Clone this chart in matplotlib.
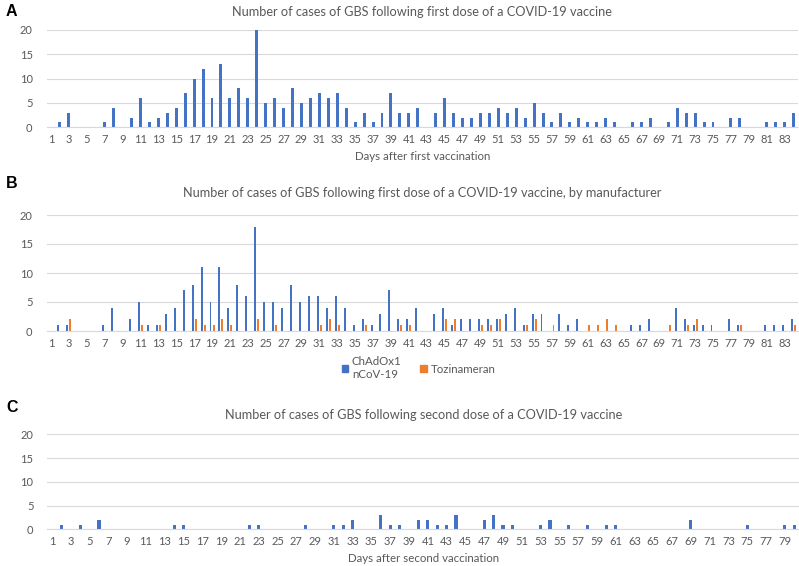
import matplotlib
matplotlib.use("Agg")
import matplotlib.pyplot as plt
import numpy as np
from matplotlib.patches import Patch

plt.rcParams['font.family'] = ['Lato', 'DejaVu Sans']

# Panel A: first dose, all
days_a = list(range(1, 85))
cases_a = [0, 1, 3, 0, 0, 0, 1, 4, 0, 2,
           6, 1, 2, 3, 4, 7, 10, 12, 6, 13,
           6, 8, 6, 20, 5, 6, 4, 8, 5, 6,
           7, 6, 7, 4, 1, 3, 1, 3, 7, 3,
           3, 4, 0, 3, 6, 3, 2, 2, 3, 3,
           4, 3, 4, 2, 5, 3, 1, 3, 1, 2,
           1, 1, 2, 1, 0, 1, 1, 2, 0, 1,
           4, 3, 3, 1, 1, 0, 2, 2, 0, 0,
           1, 1, 1, 3]

# Panel B: first dose by manufacturer
days_b = list(range(1, 85))
chadox = [0, 1, 1, 0, 0, 0, 1, 4, 0, 2,
          5, 1, 1, 3, 4, 7, 8, 11, 5, 11,
          4, 8, 6, 18, 5, 5, 4, 8, 5, 6,
          6, 4, 6, 4, 1, 2, 1, 3, 7, 2,
          2, 4, 0, 3, 4, 1, 2, 2, 2, 2,
          2, 3, 4, 1, 3, 3, 0, 3, 1, 2,
          0, 0, 0, 0, 0, 1, 1, 2, 0, 0,
          4, 2, 1, 1, 1, 0, 2, 1, 0, 0,
          1, 1, 1, 2]
tozinameran = [0, 0, 2, 0, 0, 0, 0, 0, 0, 0,
               1, 0, 1, 0, 0, 0, 2, 1, 1, 2,
               1, 0, 0, 2, 0, 1, 0, 0, 0, 0,
               1, 2, 1, 0, 0, 1, 0, 0, 0, 1,
               1, 0, 0, 0, 2, 2, 0, 0, 1, 1,
               2, 0, 0, 1, 2, 0, 1, 0, 0, 0,
               1, 1, 2, 1, 0, 0, 0, 0, 0, 1,
               0, 1, 2, 0, 0, 0, 0, 1, 0, 0,
               0, 0, 0, 1]

# Panel C: second dose
days_c = list(range(1, 81))
cases_c = [0, 1, 0, 1, 0, 2, 0, 0, 0, 0,
           0, 0, 0, 1, 1, 0, 0, 0, 0, 0,
           0, 1, 1, 0, 0, 0, 0, 1, 0, 0,
           1, 1, 2, 0, 0, 3, 1, 1, 0, 2,
           2, 1, 1, 3, 0, 0, 2, 3, 1, 1,
           0, 0, 1, 2, 0, 1, 0, 1, 0, 1,
           1, 0, 0, 0, 0, 0, 0, 0, 2, 0,
           0, 0, 0, 0, 1, 0, 0, 0, 1, 1]

titles = ["Number of cases of GBS following first dose of a COVID-19 vaccine",
          "Number of cases of GBS following first dose of a COVID-19 vaccine, by manufacturer",
          "Number of cases of GBS following second dose of a COVID-19 vaccine"]
xlabels = ["Days after first vaccination", None, "Days after second vaccination"]
legend_labels = ["ChAdOx1\nnCoV-19", "Tozinameran"]

BLUE = "#4472C4"
ORANGE = "#ED7D31"
GRID = "#D9D9D9"
TXT = "#595959"

W, H = 799, 566
fig = plt.figure(figsize=(W / 100, H / 100), dpi=100)

def ax_at(left, top, right, bottom):
    return fig.add_axes([left / W, 1 - bottom / H, (right - left) / W, (bottom - top) / H])

def style(ax, n, ticks):
    ax.set_ylim(0, 20)
    ax.set_xlim(0.5, n + 0.5)
    ax.set_yticks([0, 5, 10, 15, 20])
    ax.set_xticks(ticks)
    ax.set_xticklabels([str(t) for t in ticks])
    ax.yaxis.grid(True, color=GRID, linewidth=0.8)
    ax.set_axisbelow(True)
    for s in ['top', 'right', 'left']:
        ax.spines[s].set_visible(False)
    ax.spines['bottom'].set_color(GRID)
    ax.tick_params(axis='both', length=0, colors=TXT, labelsize=8)
    ax.tick_params(axis='x', pad=5)
    ax.tick_params(axis='y', pad=10)

# Panel A
axA = ax_at(46.5, 29.7, 798, 127.3)
axA.bar(days_a, cases_a, width=0.33, color=BLUE)
style(axA, 84, days_a[::2])
axA.set_title(titles[0], fontsize=9.2, color=TXT, pad=10)
axA.set_xlabel(xlabels[0], fontsize=8.3, color=TXT, labelpad=4)

# Panel B
axB = ax_at(46.5, 215, 798, 331)
x = np.array(days_b)
axB.bar(x - 0.17, chadox, width=0.22, color=BLUE, label=legend_labels[0])
axB.bar(x + 0.17, tozinameran, width=0.22, color=ORANGE, label=legend_labels[1])
style(axB, 84, days_b[::2])
axB.set_title(titles[1], fontsize=9.2, color=TXT, pad=13)
handles = [Patch(color=BLUE), Patch(color=ORANGE)]
leg = axB.legend(handles, legend_labels, loc='upper center', bbox_to_anchor=(0.495, -0.13),
                 ncol=2, frameon=False, fontsize=8.3, handlelength=0.6, handleheight=0.6,
                 handletextpad=0.3, columnspacing=1.6, labelcolor=TXT)

# Panel C
axC = ax_at(47.3, 434.3, 799, 529.3)
axC.bar(days_c, cases_c, width=0.33, color=BLUE)
style(axC, 80, days_c[::2])
axC.set_title(titles[2], fontsize=9.2, color=TXT, pad=11)
axC.set_xlabel(xlabels[2], fontsize=8.3, color=TXT, labelpad=4)

for lab, yy in [("A", 12), ("B", 184), ("C", 407)]:
    fig.text(6 / W, 1 - yy / H, lab, fontsize=11.5, fontweight='bold',
             family=['Liberation Sans', 'DejaVu Sans'], va='center', ha='left', color='black')

fig.savefig("out.png", dpi=100)
